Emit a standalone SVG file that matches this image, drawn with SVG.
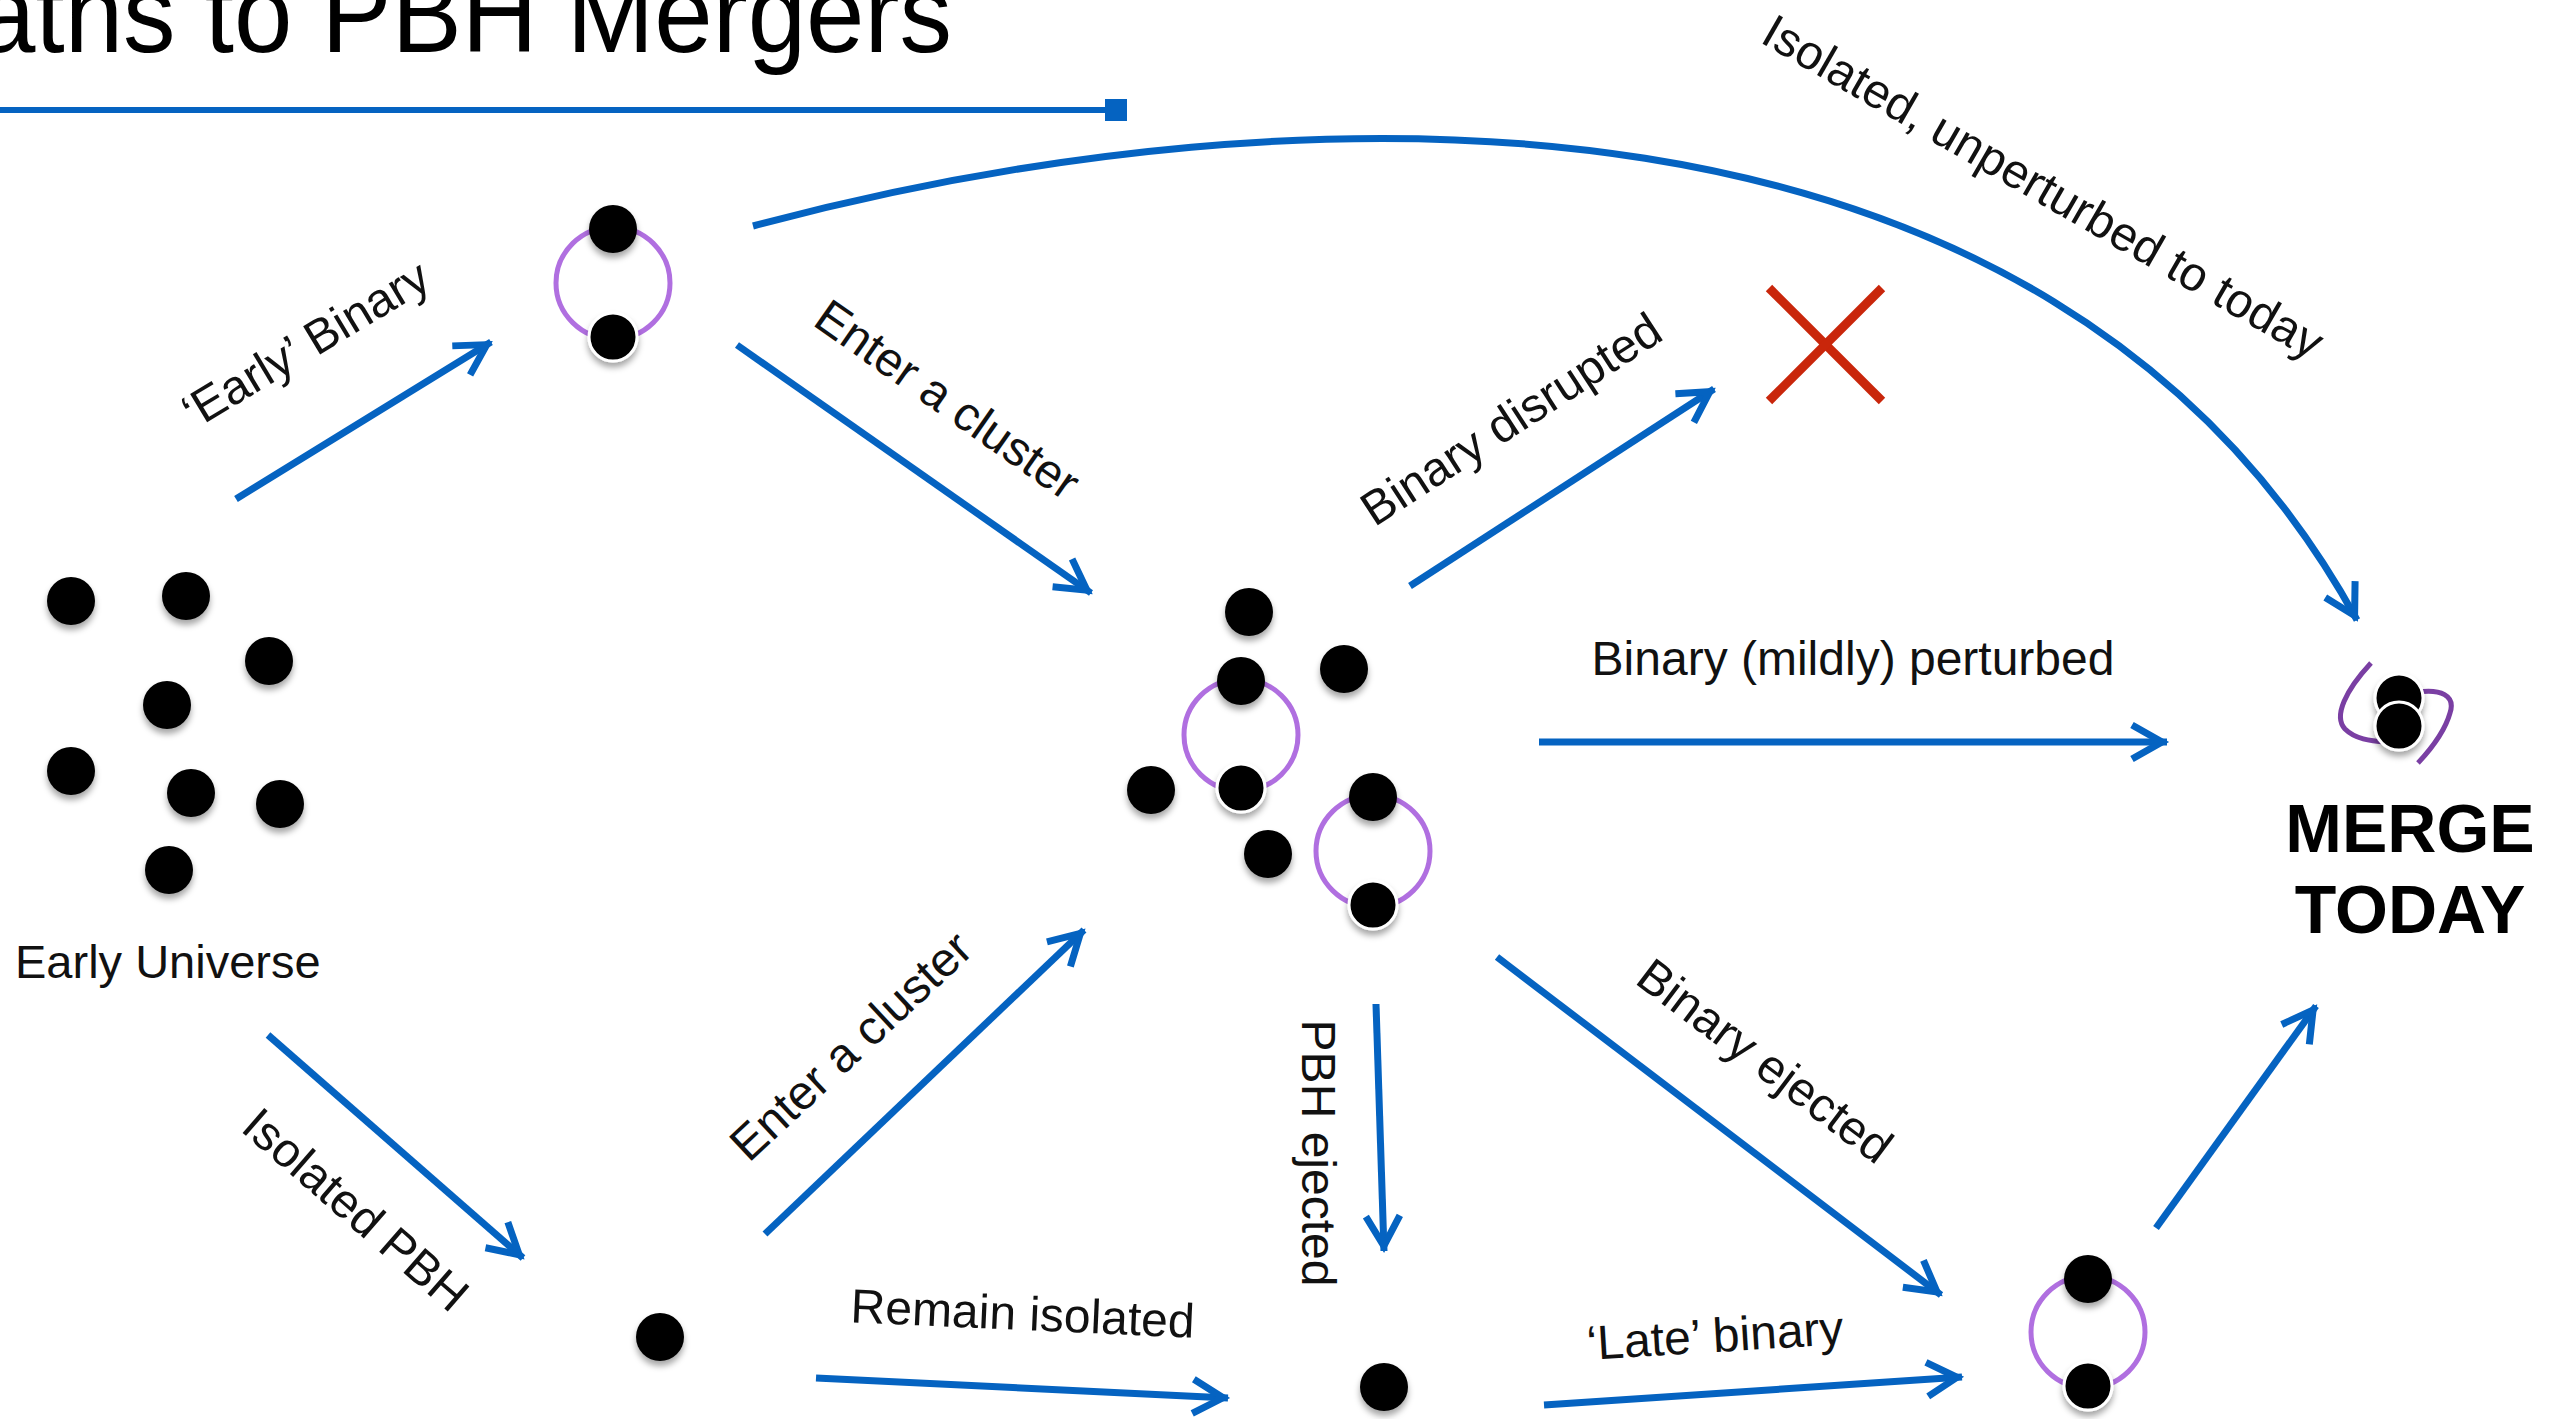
<svg xmlns="http://www.w3.org/2000/svg" width="2551" height="1419" viewBox="0 0 2551 1419">
<style>
.lbl{font-family:"Liberation Sans",Arial,Helvetica,sans-serif;font-size:48px;fill:#111}
.title{font-family:"Liberation Sans",Arial,Helvetica,sans-serif;font-size:112px;fill:#000}
.merge{font-family:"Liberation Sans",Arial,Helvetica,sans-serif;font-size:68px;font-weight:bold;fill:#000}
.edge{fill:none;stroke:#0563c1;stroke-width:7;stroke-linecap:butt;marker-end:url(#ah)}
.pbh{fill:#000;filter:url(#sh)}
.pbhw{fill:#000;stroke:#fff;stroke-width:3;filter:url(#sh)}
.orbit{fill:none;stroke:#b06fe0;stroke-width:5}
.orbit2{fill:none;stroke:#7a3fa3;stroke-width:5;stroke-linecap:butt}
</style>
<defs>
<marker id="ah" markerUnits="userSpaceOnUse" orient="auto" markerWidth="80" markerHeight="80" refX="5" refY="0" overflow="visible">
<path d="M-30,-17 L0,0 L-30,17" fill="none" stroke="#0563c1" stroke-width="7" stroke-linejoin="miter"/>
</marker>
<filter id="sh" x="-50%" y="-50%" width="200%" height="200%">
<feDropShadow dx="0" dy="5" stdDeviation="3" flood-color="#000" flood-opacity="0.35"/>
</filter>
</defs>
<rect width="2551" height="1419" fill="#fff"/>

<g id="title">
<text class="title" x="952" y="52" text-anchor="end" textLength="1045" lengthAdjust="spacingAndGlyphs">Paths to PBH Mergers</text>
<line x1="0" y1="110" x2="1110" y2="110" stroke="#0563c1" stroke-width="6"/>
<rect x="1105" y="99" width="22" height="22" fill="#0563c1"/>
</g>

<g id="early-universe">
<circle class="pbh" cx="71" cy="601" r="24"/>
<circle class="pbh" cx="186" cy="596" r="24"/>
<circle class="pbh" cx="269" cy="661" r="24"/>
<circle class="pbh" cx="167" cy="705" r="24"/>
<circle class="pbh" cx="71" cy="771" r="24"/>
<circle class="pbh" cx="191" cy="793" r="24"/>
<circle class="pbh" cx="280" cy="804" r="24"/>
<circle class="pbh" cx="169" cy="870" r="24"/>
<text class="lbl" x="15" y="978" style="font-size:47px">Early Universe</text>
</g>

<g id="early-binary">
<ellipse class="orbit" cx="613" cy="283" rx="57" ry="56"/>
<circle class="pbh" cx="613" cy="229" r="24"/>
<circle class="pbhw" cx="613" cy="337" r="24"/>
</g>

<g id="cluster">
<circle class="pbh" cx="1249" cy="612" r="24"/>
<circle class="pbh" cx="1344" cy="669" r="24"/>
<circle class="pbh" cx="1151" cy="790" r="24"/>
<circle class="pbh" cx="1268" cy="854" r="24"/>
<ellipse class="orbit" cx="1241" cy="735" rx="57" ry="56"/>
<circle class="pbh" cx="1241" cy="681" r="24"/>
<circle class="pbhw" cx="1241" cy="788" r="24"/>
<ellipse class="orbit" cx="1373" cy="851" rx="57" ry="56"/>
<circle class="pbh" cx="1373" cy="797" r="24"/>
<circle class="pbhw" cx="1373" cy="905" r="24"/>
</g>

<g id="disrupted">
<line x1="1769" y1="288" x2="1882" y2="401" stroke="#c9260b" stroke-width="9"/>
<line x1="1882" y1="288" x2="1769" y2="401" stroke="#c9260b" stroke-width="9"/>
</g>

<g id="merge-today">
<path class="orbit2" d="M2371,663 C2346,690 2333,716 2345,729 C2355,739 2370,741 2386,742"/>
<path class="orbit2" d="M2418,692 C2440,689 2456,695 2450,713 C2445,731 2432,748 2418,763"/>
<circle class="pbhw" cx="2399" cy="698" r="24"/>
<circle class="pbhw" cx="2399" cy="726" r="24"/>
<text class="merge" x="2410" y="852" text-anchor="middle">MERGE</text>
<text class="merge" x="2410" y="933" text-anchor="middle">TODAY</text>
</g>

<g id="isolated-pbh">
<circle class="pbh" cx="660" cy="1337" r="24"/>
</g>

<g id="ejected-pbh">
<circle class="pbh" cx="1384" cy="1387" r="24"/>
</g>

<g id="late-binary">
<ellipse class="orbit" cx="2088" cy="1332" rx="57" ry="56"/>
<circle class="pbh" cx="2088" cy="1279" r="24"/>
<circle class="pbhw" cx="2088" cy="1386" r="24"/>
</g>

<g id="connectors">
<g id="e-early-binary">
<path class="edge" d="M236,499 L491,342"/>
<text class="lbl" transform="translate(314,358) rotate(-31)" text-anchor="middle">‘Early’ Binary</text>
</g>
<g id="e-enter-cluster-top">
<path class="edge" d="M737,345 L1091,593"/>
<text class="lbl" transform="translate(938,413) rotate(35)" text-anchor="middle">Enter a cluster</text>
</g>
<g id="e-isolated-unperturbed">
<path class="edge" d="M753,226 C1300,80 2050,60 2357,620"/>
<text class="lbl" transform="translate(2035,201) rotate(30)" text-anchor="middle">Isolated, unperturbed to today</text>
</g>
<g id="e-binary-disrupted">
<path class="edge" d="M1410,586 L1714,389"/>
<text class="lbl" transform="translate(1520,433) rotate(-33)" text-anchor="middle">Binary disrupted</text>
</g>
<g id="e-mildly-perturbed">
<path class="edge" d="M1539,742 L2167,742"/>
<text class="lbl" x="1853" y="675" text-anchor="middle">Binary (mildly) perturbed</text>
</g>
<g id="e-isolated-pbh">
<path class="edge" d="M268,1035 L523,1258"/>
<text class="lbl" transform="translate(345,1222) rotate(41)" text-anchor="middle">Isolated PBH</text>
</g>
<g id="e-enter-cluster-bottom">
<path class="edge" d="M765,1234 L1084,930"/>
<text class="lbl" transform="translate(862,1058) rotate(-43)" text-anchor="middle">Enter a cluster</text>
</g>
<g id="e-remain-isolated">
<path class="edge" d="M816,1378 L1228,1398"/>
<text class="lbl" transform="translate(1022,1330) rotate(2.6)" text-anchor="middle">Remain isolated</text>
</g>
<g id="e-pbh-ejected">
<path class="edge" d="M1376,1004 L1384,1251"/>
<text class="lbl" transform="translate(1302,1153) rotate(90)" text-anchor="middle">PBH ejected</text>
</g>
<g id="e-binary-ejected">
<path class="edge" d="M1497,957 L1941,1295"/>
<text class="lbl" transform="translate(1755,1074) rotate(37)" text-anchor="middle">Binary ejected</text>
</g>
<g id="e-late-binary">
<path class="edge" d="M1544,1405 L1962,1377"/>
<text class="lbl" transform="translate(1716,1352) rotate(-3.5)" text-anchor="middle">‘Late’ binary</text>
</g>
<g id="e-to-merge">
<path class="edge" d="M2156,1228 L2316,1006"/>
</g>
</g>
</svg>
